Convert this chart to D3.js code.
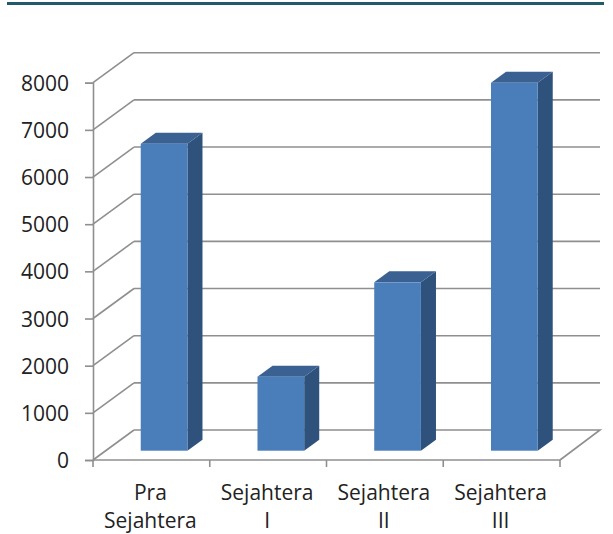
<!DOCTYPE html>
<html>
<head>
<meta charset="utf-8">
<script src="https://cdn.jsdelivr.net/npm/d3@7"></script>
<style>
  html, body { margin: 0; padding: 0; background: #ffffff; }
  svg { display: block; }
  text { font-family: "Open Sans", "Liberation Sans", sans-serif; fill: #222; }
</style>
</head>
<body>
<svg id="chart" width="613" height="534"></svg>
<script>
const categories = ["Pra Sejahtera", "Sejahtera I", "Sejahtera II", "Sejahtera III"];
const categoryLines = [["Pra", "Sejahtera"], ["Sejahtera", "I"], ["Sejahtera", "II"], ["Sejahtera", "III"]];
const values = [6510, 1570, 3570, 7800];
const yTicks = [0, 1000, 2000, 3000, 4000, 5000, 6000, 7000, 8000];

(function () {
const svg = d3.select("#chart");

// layout
const plotLeft = 93, plotRight = 560, plotBottom = 460, plotTop = 82.7;
const depthX = 41, depthY = -30;       // 3D depth offset of back wall
const zFront = 0.31, zBack = 0.677;    // bar depth positions (fraction of depth)

const x = d3.scaleBand().domain(categories).range([plotLeft, plotRight]).paddingInner(0).paddingOuter(0);
const y = d3.scaleLinear().domain([0, 8000]).range([plotBottom, plotTop]);

const gridColor = "#8f8f8f";

// top rule
svg.append("line").attr("x1", 7).attr("x2", 604).attr("y1", 3.5).attr("y2", 3.5)
  .attr("stroke", "#215a69").attr("stroke-width", 3);

// gridlines: back wall horizontals + side wall diagonals
const grid = svg.append("g");
yTicks.forEach(t => {
  const yy = y(t);
  if (t > 0) {
    grid.append("line")
      .attr("x1", plotLeft + depthX).attr("y1", yy + depthY)
      .attr("x2", 600).attr("y2", yy + depthY)
      .attr("stroke", gridColor).attr("stroke-width", 1.6);
  }
  grid.append("line")
    .attr("x1", plotLeft).attr("y1", yy)
    .attr("x2", plotLeft + depthX).attr("y2", yy + depthY)
    .attr("stroke", gridColor).attr("stroke-width", 1.6);
});

// floor outline
grid.append("path")
  .attr("d", `M${plotLeft + depthX},${plotBottom + depthY} L600,${plotBottom + depthY} L${plotRight},${plotBottom}`)
  .attr("fill", "none").attr("stroke", gridColor).attr("stroke-width", 1.6);

// bars
const bw = x.bandwidth();
const barW = bw * 0.4;
const bars = svg.append("g");
categories.forEach((c, i) => {
  const v = values[i];
  const l = x(c) + bw * 0.3;
  const r = l + barW;
  const fx = zFront * depthX, fy = zFront * depthY;
  const bx = zBack * depthX, by = zBack * depthY;
  const yt = y(v), yb = y(0);
  bars.append("polygon")
    .attr("points", [[r + fx, yt + fy], [r + bx, yt + by], [r + bx, yb + by], [r + fx, yb + fy]].join(" "))
    .attr("fill", "#2f527c");
  bars.append("polygon")
    .attr("points", [[l + fx, yt + fy], [l + bx, yt + by], [r + bx, yt + by], [r + fx, yt + fy]].join(" "))
    .attr("fill", "#3a6191");
  bars.append("rect")
    .attr("x", l + fx).attr("y", yt + fy)
    .attr("width", barW).attr("height", yb - yt)
    .attr("fill", "#4a7ebb");
});

// y axis
const yAxis = d3.axisLeft(y).tickValues(yTicks).tickSize(8).tickPadding(16).tickFormat(d3.format("d"));
const gy = svg.append("g").attr("transform", `translate(${plotLeft},0)`).call(yAxis);
gy.select(".domain").attr("stroke", gridColor).attr("stroke-width", 1.6);
gy.selectAll(".tick line").attr("stroke", gridColor).attr("stroke-width", 1.6);
gy.selectAll(".tick text")
  .attr("font-size", 21).attr("fill", "#222")
  .attr("font-family", "'Open Sans', 'Liberation Sans', sans-serif")
  .attr("dy", "0.36em");

// x axis line and ticks at band boundaries
const gx = svg.append("g");
gx.append("line").attr("x1", plotLeft).attr("x2", plotRight).attr("y1", plotBottom).attr("y2", plotBottom)
  .attr("stroke", gridColor).attr("stroke-width", 1.6);
const bounds = categories.map(c => x(c)).concat([x(categories[categories.length - 1]) + bw]);
bounds.forEach(b => {
  gx.append("line").attr("x1", b).attr("x2", b).attr("y1", plotBottom).attr("y2", plotBottom + 7)
    .attr("stroke", gridColor).attr("stroke-width", 1.6);
});

// category labels
categories.forEach((c, i) => {
  const cx = x(c) + bw / 2 - 1;
  const t = gx.append("text")
    .attr("text-anchor", "middle")
    .attr("font-size", 21)
    .attr("x", cx);
  categoryLines[i].forEach((ln, k) => {
    t.append("tspan").attr("x", cx).attr("y", 500 + k * 27.5).text(ln);
  });
});
})();
</script>
</body>
</html>
